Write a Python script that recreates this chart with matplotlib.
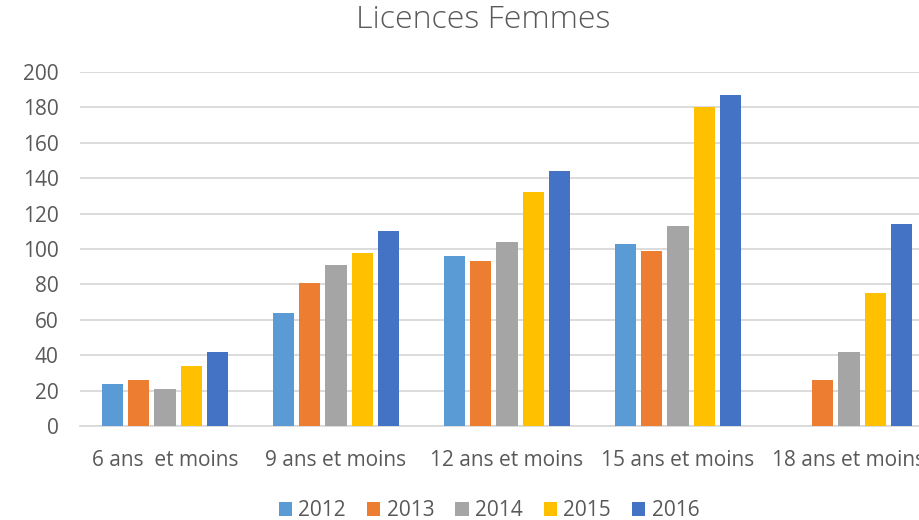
import numpy as np
import matplotlib.pyplot as plt

categories = ["6 ans  et moins", "9 ans et moins", "12 ans et moins", "15 ans et moins", "18 ans et moins"]
years = ["2012", "2013", "2014", "2015", "2016"]
v2012 = [24, 64, 96, 103, 0]
v2013 = [26, 81, 93, 99, 26]
v2014 = [21, 91, 104, 113, 42]
v2015 = [34, 98, 132, 180, 75]
v2016 = [42, 110, 144, 187, 114]
colors = ["#5b9bd5", "#ed7d31", "#a5a5a5", "#ffc000", "#4472c4"]

plt.rcParams["font.family"] = ["Open Sans", "DejaVu Sans"]
txt = "#595959"

fig = plt.figure(figsize=(9.19, 5.2), dpi=100)
# plot area runs past the right edge, as in the cropped reference
ax = fig.add_axes([79.5 / 919, 94 / 520, 855 / 919, 354 / 520])

x = np.arange(len(categories))
step = 0.153
width = 0.123
series = [v2012, v2013, v2014, v2015, v2016]
for i, (vals, yr, c) in enumerate(zip(series, years, colors)):
    ax.bar(x + (i - 2) * step, vals, width, color=c, label=yr, linewidth=0, zorder=3)

ax.set_xlim(-0.5, 4.5)
ax.set_ylim(0, 200)
ax.set_yticks(range(0, 201, 20))
ax.set_xticks(x)
ax.set_xticklabels(categories)
ax.grid(axis="y", color="#d9d9d9", linewidth=1.3, zorder=0)
for s in ["top", "right", "left"]:
    ax.spines[s].set_visible(False)
ax.spines["bottom"].set_color("#d9d9d9")
ax.spines["bottom"].set_linewidth(1.3)
ax.tick_params(axis="both", length=0, labelsize=15, colors=txt)
ax.tick_params(axis="y", pad=15)
ax.tick_params(axis="x", pad=17)

fig.text(483 / 919, 1 - 20 / 520, "Licences Femmes", ha="center", va="center",
         fontsize=23, color=txt, fontweight="light")

fig.legend(loc="center", bbox_to_anchor=(489 / 919, 1 - 511 / 520), ncol=5,
           frameon=False, fontsize=15, handlelength=0.65, handleheight=0.65,
           handletextpad=0.3, columnspacing=1.0, labelcolor=txt)

fig.savefig("out.png", dpi=100)
